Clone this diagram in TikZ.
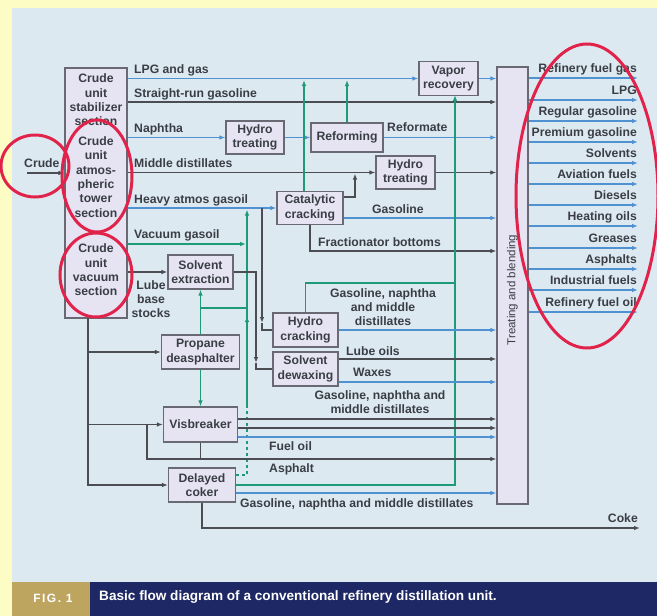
\documentclass[tikz,border=0pt]{standalone}
\usepackage{fontspec}
\setmainfont{Liberation Sans}
\usetikzlibrary{arrows.meta}

\definecolor{yellowbg}{RGB}{252,252,196}
\definecolor{panelbg}{RGB}{221,233,240}
\definecolor{boxfill}{RGB}{230,228,242}
\definecolor{boxline}{RGB}{105,105,115}
\definecolor{txtgray}{RGB}{58,61,70}
\definecolor{cdark}{RGB}{75,77,82}
\definecolor{cblue}{RGB}{80,145,210}
\definecolor{cgreen}{RGB}{30,154,118}
\definecolor{cred}{RGB}{225,35,75}
\definecolor{capnavy}{RGB}{30,40,100}
\definecolor{capgold}{RGB}{190,165,95}

\newcommand\flowfont{\fontsize{12.2}{14.3}\selectfont\bfseries}

\tikzset{
  procbox/.style={draw=boxline, fill=boxfill, line width=1.2pt, align=center,
    inner sep=0pt, font=\flowfont, text=txtgray},
  lbl/.style={font=\flowfont, text=txtgray, inner sep=0pt, align=center},
  flow/.style={line width=1.1pt, draw=cdark},
  blueflow/.style={line width=1.1pt, draw=cblue},
  greenflow/.style={line width=1.1pt, draw=cgreen},
  redmark/.style={draw=cred, line width=3pt}
}

\begin{document}
\begin{tikzpicture}[x=1pt, y=-1pt, >={Latex[length=6pt,width=4.5pt]}]
\useasboundingbox (0,0) rectangle (657,616);
\fill[yellowbg] (0,0) rectangle (657,616);
\fill[panelbg] (12,8) rectangle (657,582);

% process units
\node[procbox, minimum width=62pt, minimum height=250pt] (col) at (96,193) {};
\node[lbl] (stab) at (96,100) {Crude\\unit\\stabilizer\\section};
\node[lbl] (atm) at (96,177) {Crude\\unit\\atmos-\\pheric\\tower\\section};
\node[lbl] (vac) at (96,270) {Crude\\unit\\vacuum\\section};

\node[procbox, minimum width=59pt, minimum height=34pt] (vap) at (448.5,78.5) {Vapor\\recovery};
\node[procbox, minimum width=58pt, minimum height=33pt] (ht1) at (255,137.5) {Hydro\\treating};
\node[procbox, minimum width=72pt, minimum height=29pt] (reform) at (347,137.5) {Reforming};
\node[procbox, minimum width=59pt, minimum height=33pt] (ht2) at (405.5,172.5) {Hydro\\treating};
\node[procbox, minimum width=66pt, minimum height=33pt] (cat) at (310,208) {Catalytic\\cracking};
\node[procbox, minimum width=65pt, minimum height=34pt] (solvex) at (200.5,272) {Solvent\\extraction};
\node[procbox, minimum width=78pt, minimum height=34pt] (propane) at (200.5,352) {Propane\\deasphalter};
\node[procbox, minimum width=65pt, minimum height=34pt] (hcrack) at (305.5,330) {Hydro\\cracking};
\node[procbox, minimum width=65pt, minimum height=34pt] (dewax) at (305.5,369) {Solvent\\dewaxing};
\node[procbox, minimum width=74pt, minimum height=35pt] (visb) at (200.5,424.5) {Visbreaker};
\node[procbox, minimum width=67pt, minimum height=34pt] (coker) at (202,485) {Delayed\\coker};
\node[procbox, minimum width=31pt, minimum height=437pt] (tb) at (512.5,285.5) {};
\node[font=\fontsize{11.5}{13}\selectfont, text=txtgray, rotate=90] (tbtext) at (512.5,290) {Treating and blending};

% crude feed
\node[lbl, anchor=base west] (crude) at (24,167) {Crude};
\coordinate (crudein) at (27,173);
\draw[flow,->] (crudein) -- (col.west |- crudein);

% atmospheric and stabilizer products
\draw[blueflow,->] (col.east |- vap.west) -- (vap.west);
\node[lbl, anchor=base west] (lpgtxt) at (134,73) {LPG and gas};
\draw[flow,->] (col.east |- 0,102) -- (tb.west |- 0,102);
\node[lbl, anchor=base west] (srtxt) at (134,97) {Straight-run gasoline};
\draw[blueflow,->] (col.east |- ht1.west) -- (ht1.west);
\node[lbl, anchor=base west] (naptxt) at (134,132) {Naphtha};
\draw[flow,->] (col.east |- ht2.west) -- (ht2.west);
\node[lbl, anchor=base west] (mdtxt) at (134,167) {Middle distillates};
\draw[blueflow,->] (col.east |- cat.west) -- (cat.west);
\node[lbl, anchor=base west] (hagtxt) at (134,203) {Heavy atmos gasoil};
\draw[greenflow,->] (col.east |- 0,244) -- (246,244);
\node[lbl, anchor=base west] (vgotxt) at (134,238) {Vacuum gasoil};
\draw[flow,->] (col.east |- solvex.west) -- (solvex.west);
\node[lbl] (lubetxt) at (151,299) {Lube\\base\\stocks};

% naphtha train
\draw[blueflow,->] (ht1.east) -- (reform.west);
\draw[blueflow,->] (reform.east) -- (tb.west |- reform.east);
\node[lbl, anchor=base west] (reftxt) at (387,131) {Reformate};
\draw[greenflow,->] (reform.north) -- (reform.north |- 0,80);
\draw[blueflow,->] (vap.east) -- (tb.west |- vap.east);
\draw[flow,->] (ht2.east) -- (tb.west |- ht2.east);

% catalytic cracking
\draw[greenflow,->] (cat.north -| 304,0) -- (304,80);
\draw[flow,->] (cat.east |- 0,197) -| (355,173.5);
\draw[blueflow,->] (cat.east |- 0,218) -- (tb.west |- 0,218);
\node[lbl, anchor=base west] (gastxt) at (372,213) {Gasoline};
\draw[flow,->] (cat.south) |- (tb.west |- 0,251);
\node[lbl, anchor=base west] (fbtxt) at (318,246) {Fractionator bottoms};

% gas gathering to vapor recovery
\coordinate (vrin) at (455,95);
\draw[greenflow,->] (coker.east) -| (vrin);
\draw[greenflow] (hcrack.north) |- (455,283);

% gasoil feeds to the cat cracker
\draw[greenflow, dashed] (coker.east |- 0,475) -| (247,405);
\draw[greenflow,->] (247,405) -- (247,209.5);
\draw[greenflow,->] (247,335) -- (247,316);
\draw[greenflow,->] (propane.north) -- (solvex.south);
\draw[greenflow] (propane.north |- 0,308) -- (247,308);
\draw[greenflow,->] (propane.south) -- (visb.north);

% hydrocracking and dewaxing
\coordinate (hcfeed) at (262,208);
\draw[flow,->] (hcfeed) -- (262,323);
\draw[flow] (262,323) |- (hcrack.west);
\draw[flow,->] (solvex.east) -| (256,363);
\draw[flow] (256,363) |- (dewax.west);
\draw[blueflow,->] (hcrack.east) -- (tb.west |- hcrack.east);
\node[lbl] (hctxt) at (383,307) {Gasoline, naphtha\\and middle\\distillates};
\draw[flow,->] (dewax.east |- 0,359) -- (tb.west |- 0,359);
\node[lbl, anchor=base west] (lubeoil) at (346,355) {Lube oils};
\draw[blueflow,->] (dewax.east |- 0,382) -- (tb.west |- 0,382);
\node[lbl, anchor=base west] (waxtxt) at (353,376) {Waxes};

% vacuum residue
\coordinate (vbot) at (88,318);
\draw[flow,->] (vbot) |- (coker.west);
\draw[flow,->] (vbot |- propane.west) -- (propane.west);
\draw[flow,->] (vbot |- visb.west) -- (visb.west);

% visbreaker
\draw[flow,->] (147,424.5) |- (tb.west |- 0,459);
\draw[flow] (visb.south) -- (visb.south |- 0,459);
\draw[flow,->] (visb.east |- 0,419) -- (tb.west |- 0,419);
\draw[flow,->] (visb.east |- 0,428) -- (tb.west |- 0,428);
\draw[blueflow,->] (visb.east |- 0,437) -- (tb.west |- 0,437);
\node[lbl] (vbtxt) at (380,402) {Gasoline, naphtha and\\middle distillates};
\node[lbl, anchor=base west] (fotxt) at (269,450) {Fuel oil};
\node[lbl, anchor=base west] (asptxt) at (269,472) {Asphalt};

% coker
\draw[blueflow,->] (coker.east |- 0,493) -- (tb.west |- 0,493);
\node[lbl, anchor=base west] (cktxt) at (240,507) {Gasoline, naphtha and middle distillates};
\coordinate (cokeout) at (640,528);
\draw[flow,->] (coker.south) |- (cokeout);
\node[lbl, anchor=base east] (coketxt) at (638,522) {Coke};

% finished products
\foreach \yy/\prod in {78/Refinery fuel gas, 100/LPG, 121/Regular gasoline,
  142/Premium gasoline, 163/Solvents, 184/Aviation fuels, 205/Diesels,
  226/Heating oils, 248/Greases, 269/Asphalts, 290/Industrial fuels,
  312/Refinery fuel oil}{
  \coordinate (out-\yy) at (638,\yy);
  \draw[blueflow,->] (tb.east |- out-\yy) -- (out-\yy);
  \node[lbl, anchor=base east] at (637,\yy-6) {\prod};
}

% red marks
\draw[redmark] (35,166) ellipse [x radius=34pt, y radius=31pt];
\draw[redmark] (97,176) ellipse [x radius=35pt, y radius=56pt];
\draw[redmark] (96,275) ellipse [x radius=36pt, y radius=42pt];
\draw[redmark] (587,196) ellipse [x radius=71pt, y radius=152pt];

% caption
\fill[capgold] (12,582) rectangle (90,616);
\fill[capnavy] (90,582) rectangle (657,616);
\node[font=\fontsize{12}{14}\selectfont\bfseries\addfontfeature{LetterSpace=12}, text=white, inner sep=0pt] (fig) at (53,598) {FIG.\ 1};
\node[font=\fontsize{13.6}{15}\selectfont\bfseries, text=white, anchor=west, inner sep=0pt] (cap) at (99,597)
  {Basic flow diagram of a conventional refinery distillation unit.};
\end{tikzpicture}
\end{document}
